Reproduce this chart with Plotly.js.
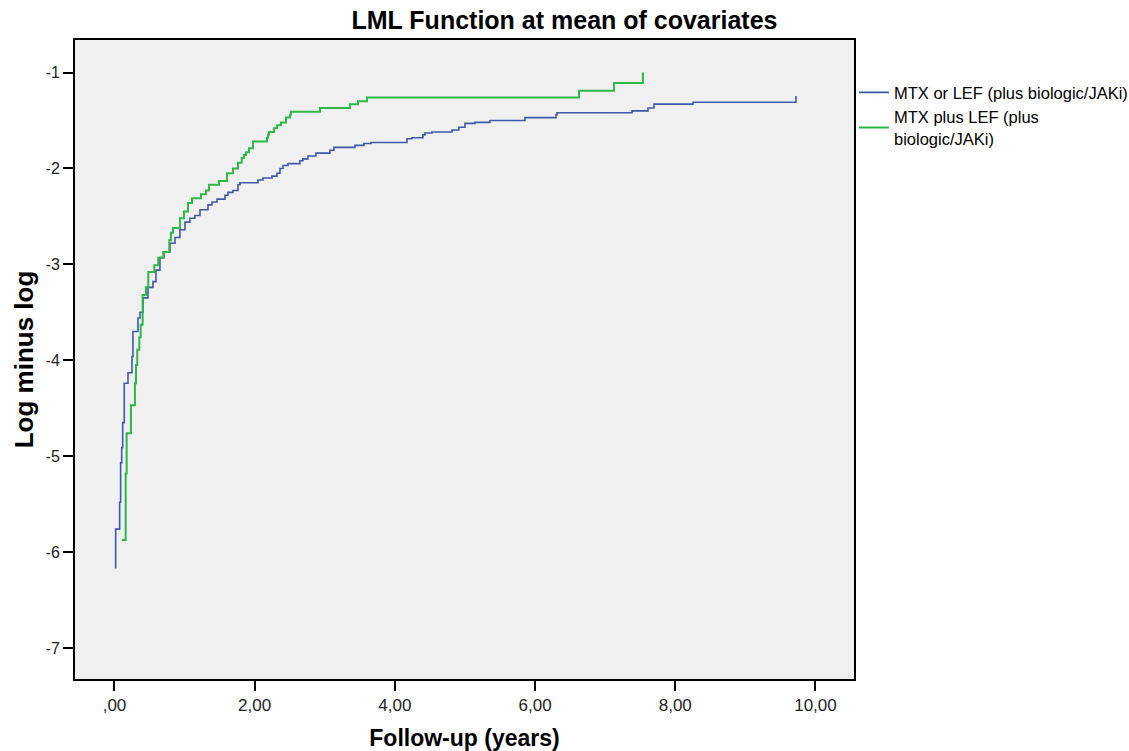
<!DOCTYPE html>
<html>
<head>
<meta charset="utf-8">
<script src="https://cdn.plot.ly/plotly-3.0.1.min.js"></script>
<style>html,body{margin:0;padding:0;background:#fff;}#chart{width:1129px;height:751px;}</style>
</head>
<body>
<div id="chart"></div>
<script>
// Series 1: MTX or LEF (plus biologic/JAKi)
const blueX = [0.017,0.017,0.074,0.088,0.103,0.117,0.140,0.193,0.250,0.264,0.335,0.364,0.407,0.478,0.549,0.592,0.649,0.706,0.792,0.863,0.934,1.006,1.077,1.148,1.220,1.334,1.391,1.462,1.576,1.619,1.690,1.762,1.790,2.047,2.118,2.247,2.318,2.361,2.404,2.475,2.646,2.689,2.760,2.874,3.074,3.131,3.431,3.559,3.659,4.173,4.244,4.401,4.429,4.529,4.815,4.914,5.000,5.143,5.357,5.856,6.299,6.313,7.383,7.611,7.697,8.253,9.722];
const blueY = [-6.17,-5.76,-5.48,-5.07,-4.91,-4.65,-4.24,-4.13,-3.96,-3.70,-3.56,-3.50,-3.35,-3.24,-3.18,-3.06,-2.93,-2.87,-2.78,-2.72,-2.64,-2.56,-2.52,-2.49,-2.43,-2.38,-2.35,-2.32,-2.28,-2.25,-2.23,-2.17,-2.15,-2.12,-2.10,-2.08,-2.05,-2.00,-1.97,-1.95,-1.92,-1.90,-1.87,-1.84,-1.81,-1.78,-1.76,-1.74,-1.73,-1.69,-1.68,-1.65,-1.63,-1.62,-1.60,-1.57,-1.53,-1.52,-1.50,-1.47,-1.44,-1.42,-1.40,-1.37,-1.33,-1.31,-1.245];
// Series 2: MTX plus LEF (plus biologic/JAKi)
const greenX = [0.103,0.160,0.174,0.235,0.292,0.307,0.325,0.354,0.374,0.402,0.449,0.482,0.568,0.625,0.696,0.782,0.806,0.835,0.934,0.991,1.049,1.106,1.234,1.305,1.348,1.491,1.605,1.690,1.762,1.815,1.847,1.876,1.919,1.976,2.176,2.190,2.204,2.275,2.318,2.375,2.447,2.504,2.518,2.932,3.359,3.474,3.602,6.627,7.126,7.539];
const greenY = [-5.875,-5.18,-4.76,-4.47,-4.24,-4.05,-3.89,-3.76,-3.63,-3.32,-3.24,-3.08,-3.01,-2.93,-2.87,-2.75,-2.67,-2.62,-2.52,-2.45,-2.36,-2.31,-2.27,-2.23,-2.17,-2.13,-2.05,-2.00,-1.94,-1.89,-1.86,-1.83,-1.79,-1.72,-1.68,-1.65,-1.62,-1.58,-1.55,-1.52,-1.47,-1.44,-1.41,-1.37,-1.33,-1.30,-1.26,-1.19,-1.11,-1.00];

const seriesNames = ['MTX or LEF (plus biologic/JAKi)', 'MTX plus LEF (plus<br>biologic/JAKi)'];
const xTickVals = [0,2,4,6,8,10];
const xTickText = [',00','2,00','4,00','6,00','8,00','10,00'];
const yTickVals = [-1,-2,-3,-4,-5,-6,-7];
const yTickText = ['-1','-2','-3','-4','-5','-6','-7'];

const FONT = 'Liberation Sans, Arial, sans-serif';

const traces = [
  {x: blueX, y: blueY, name: seriesNames[0], type: 'scatter', mode: 'lines',
   line: {shape: 'hv', color: '#3e58ac', width: 1.6}},
  {x: greenX, y: greenY, name: seriesNames[1], type: 'scatter', mode: 'lines',
   line: {shape: 'hv', color: '#2eb848', width: 2}}
];

const layout = {
  width: 1129, height: 751,
  paper_bgcolor: '#ffffff', plot_bgcolor: '#f0f0f0',
  margin: {l: 75, r: 275, t: 40, b: 72, pad: 0, autoexpand: false},
  title: {text: 'LML Function at mean of covariates', x: 0.5, xref: 'container', xanchor: 'center',
          y: 0.973, yref: 'container', yanchor: 'middle',
          font: {family: FONT, size: 25, color: '#000', weight: 'bold'}},
  xaxis: {range: [-0.563, 10.55], tickvals: xTickVals, ticktext: xTickText,
          showgrid: false, zeroline: false, showline: true, linecolor: '#000', linewidth: 2, mirror: true,
          ticks: 'outside', ticklen: 10, tickwidth: 2, tickcolor: '#000',
          tickfont: {family: FONT, size: 17, color: '#222'},
          title: {text: 'Follow-up (years)', standoff: 16, font: {family: FONT, size: 23, color: '#000', weight: 'bold'}}},
  yaxis: {range: [-7.323, -0.661], tickvals: yTickVals, ticktext: yTickText,
          showgrid: false, zeroline: false, showline: true, linecolor: '#000', linewidth: 2, mirror: true,
          ticks: 'outside', ticklen: 10, tickwidth: 2, tickcolor: '#000',
          tickfont: {family: FONT, size: 16, color: '#222'},
          title: {text: 'Log minus log', standoff: 4, font: {family: FONT, size: 26, color: '#000', weight: 'bold'}}},
  showlegend: true,
  legend: {x: 1.0, xanchor: 'left', y: 0.945, yanchor: 'top', bgcolor: 'rgba(0,0,0,0)',
           font: {family: FONT, size: 16.5, color: '#000'}, tracegroupgap: 0, itemwidth: 30}
};

Plotly.newPlot('chart', traces, layout, {displayModeBar: false, staticPlot: true});
</script>
</body>
</html>
